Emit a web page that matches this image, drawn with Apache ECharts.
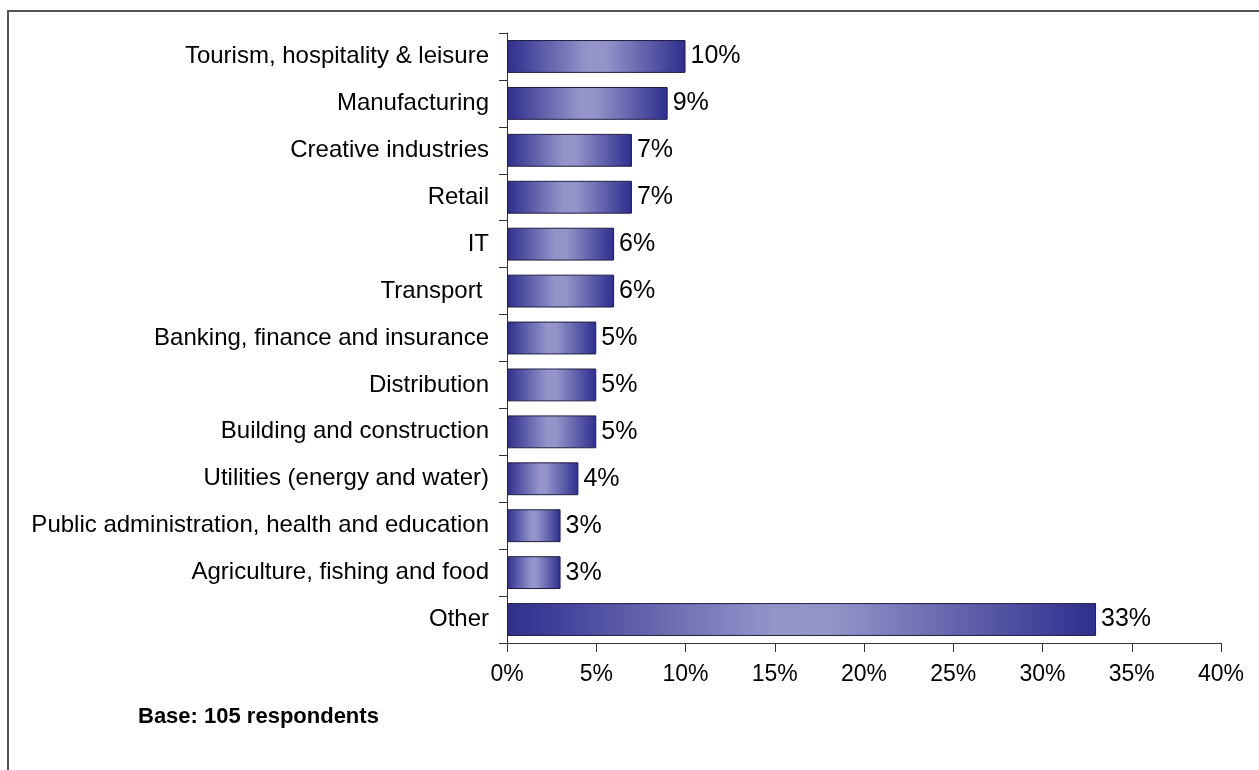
<!DOCTYPE html>
<html>
<head>
<meta charset="utf-8">
<script src="https://cdn.jsdelivr.net/npm/echarts@6/dist/echarts.min.js"></script>
<style>
  html, body { margin: 0; padding: 0; background: #fff; }
  #chart { width: 1259px; height: 770px; }
</style>
</head>
<body>
<div id="chart"></div>
<script>
// Sectors, listed top to bottom
const sectors = [
  'Tourism, hospitality & leisure',
  'Manufacturing',
  'Creative industries',
  'Retail',
  'IT',
  'Transport ',
  'Banking, finance and insurance',
  'Distribution',
  'Building and construction',
  'Utilities (energy and water)',
  'Public administration, health and education',
  'Agriculture, fishing and food',
  'Other'
];
// Share of respondents (%)
const shares = [10, 9, 7, 7, 6, 6, 5, 5, 5, 4, 3, 3, 33];
const xTicks = [0, 5, 10, 15, 20, 25, 30, 35, 40];
const baseNote = 'Base: 105 respondents';

const chart = echarts.init(document.getElementById('chart'));

const barFill = new echarts.graphic.LinearGradient(0, 0, 1, 0, [
  { offset: 0, color: '#2e2e8e' },
  { offset: 0.45, color: '#9494ca' },
  { offset: 0.55, color: '#9494ca' },
  { offset: 1, color: '#2e2e8e' }
]);

chart.setOption({
  animation: false,
  textStyle: { fontFamily: 'Liberation Sans, Arial, sans-serif' },
  grid: { left: 507, right: 38, top: 33, bottom: 127, containLabel: false },
  graphic: [
    {
      type: 'rect',
      shape: { x: 8, y: 11, width: 1300, height: 800 },
      style: { fill: 'none', stroke: '#555', lineWidth: 2 },
      silent: true
    },
    {
      type: 'text',
      left: 138, top: 706,
      style: { text: baseNote, font: 'bold 22px "Liberation Sans", Arial, sans-serif', fill: '#000' }
    }
  ],
  xAxis: {
    type: 'value',
    min: xTicks[0],
    max: xTicks[xTicks.length - 1],
    interval: 5,
    axisLine: { show: true, lineStyle: { color: '#333', width: 1 } },
    axisTick: { show: true, length: 9, lineStyle: { color: '#333' } },
    splitLine: { show: false },
    axisLabel: {
      formatter: v => v + '%',
      fontSize: 23, color: '#000', margin: 20
    }
  },
  yAxis: {
    type: 'category',
    data: sectors,
    inverse: true,
    axisLine: { show: true, lineStyle: { color: '#333', width: 1 } },
    axisTick: { show: true, length: 8, lineStyle: { color: '#333' } },
    axisLabel: { fontSize: 24, color: '#000', margin: 18 }
  },
  series: [{
    type: 'bar',
    data: shares,
    barCategoryGap: '30%',
    itemStyle: { color: barFill, borderColor: '#1e1e40', borderWidth: 1 },
    label: {
      show: true, position: 'right', distance: 5,
      formatter: p => p.value + '%',
      fontSize: 25, color: '#000'
    }
  }]
});
</script>
</body>
</html>
